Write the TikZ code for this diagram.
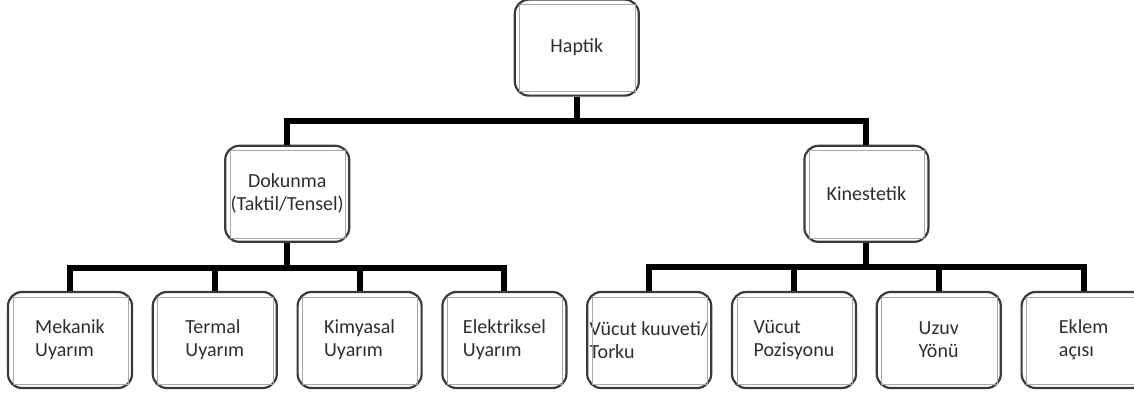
\documentclass[tikz,border=0pt]{standalone}
\usepackage{fontspec}
\setmainfont{Carlito}
\usepackage{tikz}
\usetikzlibrary{positioning,calc}
\definecolor{kenarGri}{HTML}{3A3A3A}
\definecolor{icGri}{HTML}{A8A8A8}
\definecolor{yaziGri}{HTML}{2E2E2E}

\begin{document}
\begin{tikzpicture}[
            x=0.5pt, y=-0.5pt,
            node distance=24pt and 9.3pt,
            kutu/.style={draw=kenarGri, line width=1.1pt, rounded corners=7pt, fill=white,
                         minimum width=62pt, minimum height=48pt, inner sep=0pt,
                         align=left, text=yaziGri, font=\fontsize{10}{11.5}\selectfont},
            ickutu/.style={draw=icGri, line width=0.35pt},
            baglanti/.style={line width=3pt, black}
        ]
\useasboundingbox (0,0) rectangle (1134,396);

\node[kutu] (mekanik) at (70,340) {Mekanik\\Uyarım};
\node[kutu, right=of mekanik] (termal) {Termal\\Uyarım};
\node[kutu, right=of termal] (kimyasal) {Kimyasal\\Uyarım};
\node[kutu, right=of kimyasal] (elektriksel) {Elektriksel\\Uyarım};
\node[kutu, right=of elektriksel] (kuvvet) {Vücut kuuveti/\\Torku};
\node[kutu, right=of kuvvet] (pozisyon) {Vücut\\Pozisyonu};
\node[kutu, right=of pozisyon] (uzuv) {Uzuv\\Yönü};
\node[kutu, right=of uzuv] (eklem) {Eklem\\açısı};

\coordinate (solorta) at ($(termal.north)!0.5!(kimyasal.north)$);
\coordinate (sagorta) at ($(pozisyon.north)!0.5!(uzuv.north)$);
\node[kutu, align=center, above=of solorta] (dokunma) {Dokunma\\(Taktil/Tensel)};
\node[kutu, above=of sagorta] (kinestetik) {Kinestetik};

\coordinate (ustorta) at ($(dokunma.north)!0.5!(kinestetik.north)$);
\node[kutu, above=of ustorta] (haptik) {Haptik};

% ic cerceveler
\foreach \k in {haptik,dokunma,kinestetik,mekanik,termal,kimyasal,elektriksel,kuvvet,pozisyon,uzuv,eklem}
  \draw[ickutu] ([shift={(3pt,-3pt)}]\k.north west) rectangle ([shift={(-2.5pt,2.5pt)}]\k.south east);

\draw[baglanti] (haptik.south) -- ++(0,24) -| (dokunma.north);
\draw[baglanti] (haptik.south) ++(0,24) -| (kinestetik.north);
\foreach \c in {mekanik,termal,kimyasal,elektriksel}
  \draw[baglanti] (dokunma.south) -- ++(0,25) -| (\c.north);
\foreach \c in {kuvvet,pozisyon,uzuv,eklem}
  \draw[baglanti] (kinestetik.south) -- ++(0,24) -| (\c.north);
\end{tikzpicture}
\end{document}
